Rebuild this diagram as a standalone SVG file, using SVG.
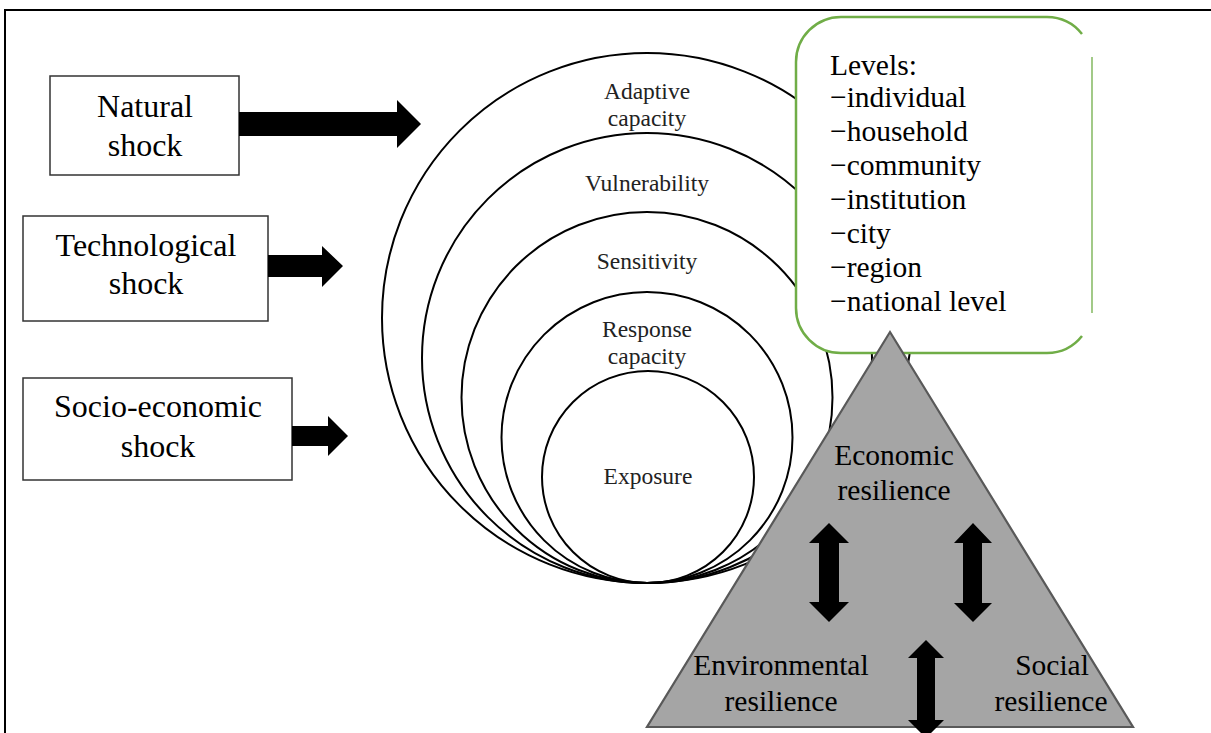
<svg xmlns="http://www.w3.org/2000/svg" width="1211" height="733" viewBox="0 0 1211 733">
<style>
.frame{stroke:#000;stroke-width:2;fill:none}
.box{fill:#fff;stroke:#333;stroke-width:1.5}
.t{font-family:"Liberation Serif","Times New Roman",serif;fill:#000;text-anchor:middle}
.shock{font-size:32px}
.ring{fill:none;stroke:#000;stroke-width:2}
.cl{font-family:"Liberation Serif","Times New Roman",serif;font-size:23.5px;fill:#222;text-anchor:middle}
.lv{font-family:"Liberation Serif","Times New Roman",serif;font-size:29.5px;fill:#000}
.tri{font-family:"Liberation Serif","Times New Roman",serif;font-size:29.5px;fill:#000;text-anchor:middle}
.blk{fill:#000;stroke:none}
.green{fill:none;stroke:#70ad47;stroke-width:2.5}
</style>
<rect width="1211" height="733" fill="#fff"/>
<path class="frame" d="M5,733 V10 H1211"/>

<g id="natural-shock">
<rect class="box" x="50" y="76" width="189" height="99"/>
<text class="t shock" x="145" y="117">Natural</text>
<text class="t shock" x="145" y="156">shock</text>
</g>
<g id="technological-shock">
<rect class="box" x="23" y="216" width="245" height="105"/>
<text class="t shock" x="146" y="256">Technological</text>
<text class="t shock" x="146" y="294">shock</text>
</g>
<g id="socio-economic-shock">
<rect class="box" x="23" y="378" width="269" height="102"/>
<text class="t shock" x="158" y="417">Socio-economic</text>
<text class="t shock" x="158" y="457">shock</text>
</g>

<g id="rings">
<circle class="ring" cx="647" cy="318" r="265"/>
<circle class="ring" cx="647" cy="358" r="225"/>
<circle class="ring" cx="647" cy="397.5" r="185.5"/>
<circle class="ring" cx="647" cy="437.5" r="145.5"/>
<circle class="ring" cx="648" cy="477" r="106"/>
<text class="cl" x="647" y="99">Adaptive</text>
<text class="cl" x="647" y="126">capacity</text>
<text class="cl" x="647" y="191">Vulnerability</text>
<text class="cl" x="647" y="269">Sensitivity</text>
<text class="cl" x="647" y="337">Response</text>
<text class="cl" x="647" y="364">capacity</text>
<text class="cl" x="648" y="484">Exposure</text>
</g>

<g id="levels">
<rect x="796" y="17" width="296" height="336" rx="45" fill="#fff"/>
<path class="green" d="M1082,34 A45,45 0 0 0 1047,17 H841 A45,45 0 0 0 796,62 V308 A45,45 0 0 0 841,353 H1047 A45,45 0 0 0 1082,336"/>
<line x1="1092" y1="57" x2="1092" y2="313" stroke="#70ad47" stroke-width="1.3"/>
<text class="lv" x="830" y="75">Levels:</text>
<text class="lv" x="830" y="107">−individual</text>
<text class="lv" x="830" y="141">−household</text>
<text class="lv" x="830" y="175">−community</text>
<text class="lv" x="830" y="209">−institution</text>
<text class="lv" x="830" y="243">−city</text>
<text class="lv" x="830" y="277">−region</text>
<text class="lv" x="830" y="311">−national level</text>
</g>

<g id="resilience-triangle">
<polygon points="890,332 1133,727 647,727" fill="#a5a5a5" stroke="#595959" stroke-width="2.2" stroke-linejoin="miter"/>
<text class="tri" x="894" y="465">Economic</text>
<text class="tri" x="894" y="500">resilience</text>
<text class="tri" x="781" y="675">Environmental</text>
<text class="tri" x="781" y="711">resilience</text>
<text class="tri" x="1052" y="675">Social</text>
<text class="tri" x="1051" y="711">resilience</text>
</g>

<g id="connectors">
<polygon class="blk" points="239,112 397,112 397,100 421,124 397,148 397,136 239,136"/>
<polygon class="blk" points="268,255 322,255 322,246 343,266 322,287 322,277 268,277"/>
<polygon class="blk" points="292,426 328,426 328,416 348,436 328,456 328,446 292,446"/>
<polygon class="blk" points="829,523 849,543 839,543 839,602 849,602 829,622 809,602 819,602 819,543 809,543"/>
<polygon class="blk" points="973,523 992,543 982,543 982,603 992,603 973,622 954,603 963,603 963,543 954,543"/>
<polygon class="blk" points="926,640 944,658 935,658 935,720 944,720 926,738 908,720 917,720 917,658 908,658"/>
</g>
</svg>
